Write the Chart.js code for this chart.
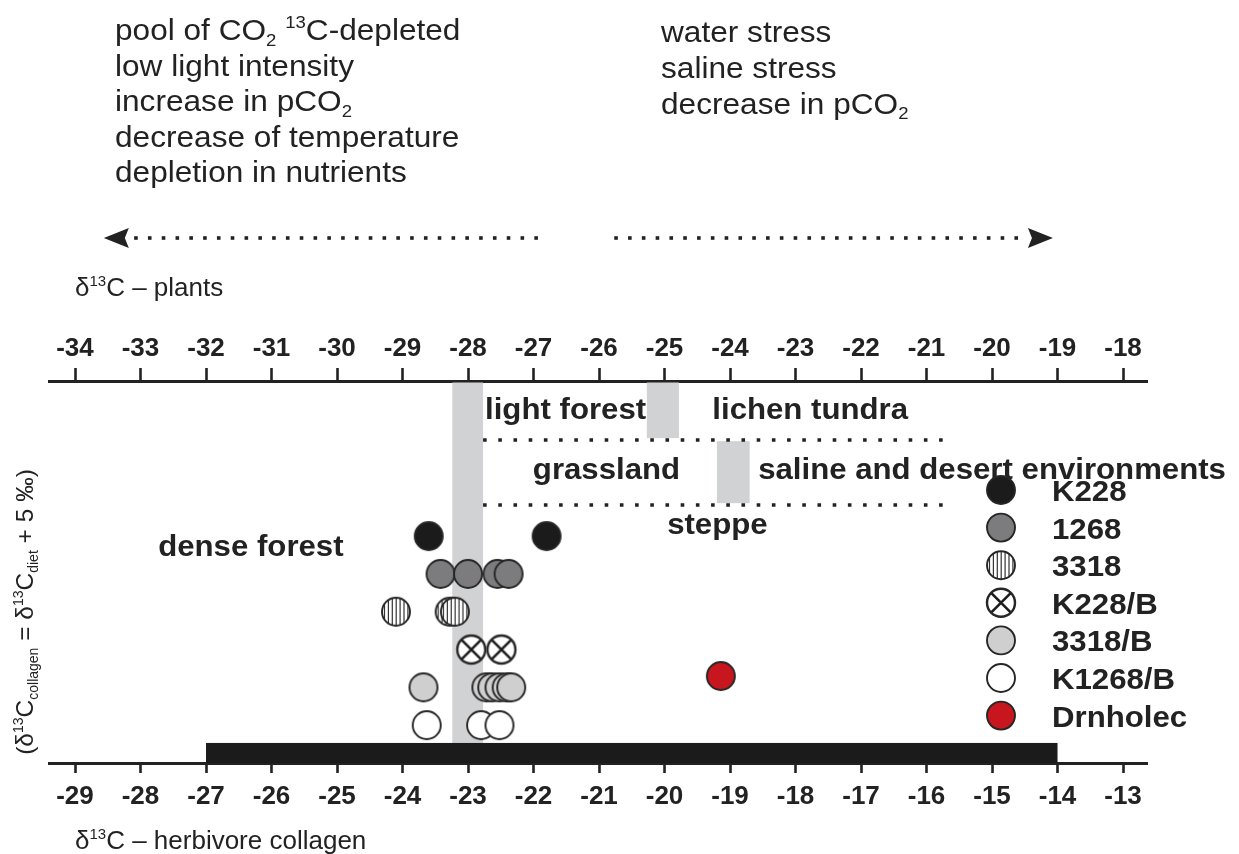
<!DOCTYPE html>
<html>
<head>
<meta charset="utf-8">
<script src="https://cdn.jsdelivr.net/npm/chart.js@4.4.0/dist/chart.umd.min.js"></script>
<style>
  html, body { margin: 0; padding: 0; background: #fff; }
  #wrap { width: 1239px; height: 854px; position: relative; }
</style>
</head>
<body>
<div id="wrap"><canvas id="c" width="1239" height="854"></canvas></div>
<script>
// ---- axis tick values ----
const collagenTicks = [-29, -28, -27, -26, -25, -24, -23, -22, -21, -20, -19, -18, -17, -16, -15, -14, -13];
const plantTicks = [-34, -33, -32, -31, -30, -29, -28, -27, -26, -25, -24, -23, -22, -21, -20, -19, -18];

// ---- herbivore collagen δ13C values, one array per sample group ----
const seriesNames = ['K228', '1268', '3318', 'K228/B', '3318/B', 'K1268/B', 'Drnholec'];
const k228Values = [-23.6, -21.8];
const s1268Values = [-23.42, -23.0, -22.55, -22.38];
const s3318Values = [-24.1, -23.28, -23.2];
const k228bValues = [-22.95, -22.49];
const s3318bValues = [-23.68, -22.72, -22.63, -22.52, -22.41, -22.34];
const k1268bValues = [-23.63, -22.8, -22.52];
const drnholecValues = [-19.14];
// vertical row of each group
const rowLevels = [6, 5, 4, 3, 2, 1, 2.3];

// ---- vegetation zones on the plant scale ----
const zoneBoundaries = [-28.24, -27.77, -25.27, -24.78, -24.2, -23.7]; // grey boundary strips (pairs)
const zoneBoundaryRows = [[0, 10.1], [8.59, 10.1], [6.87, 8.51]];
const zoneDividers = [8.54, 6.82];          // dotted dividers
const zoneDividerSpan = [-27.77, -20.72];   // plant scale
const zoneLabels = ['light forest', 'lichen tundra', 'grassland', 'saline and desert environments', 'steppe', 'dense forest'];
const zoneLabelX = [-27.74, -24.27, -27.01, -23.57, -24.96, -32.73];
const zoneLabelY = [9.1, 9.1, 7.5, 7.5, 6.05, 5.48];
// range of collagen values shown by the black bar
const collagenRange = [-27, -14];
const collagenRangeHeight = 0.53;

// ---- text ----
const leftNotes = ['pool of CO_{2} ^{13}C-depleted', 'low light intensity', 'increase in pCO_{2}', 'decrease of temperature', 'depletion in nutrients'];
const rightNotes = ['water stress', 'saline stress', 'decrease in pCO_{2}'];
const plantTitle = 'δ^{13}C – plants';
const collagenTitle = 'δ^{13}C – herbivore collagen';
const yTitle = '(δ^{13}C_{collagen} = δ^{13}C_{diet} + 5 ‰)';
// arrows on the plant scale: [tail, tip]
const arrowLower = [-26.96, -33.56];
const arrowHigher = [-25.74, -19.07];

const INK = '#222';
const FONT = '"Liberation Sans", Arial, sans-serif';

// ---- markers ----
const R = 14;
const markerKinds = ['black', 'grey', 'stripe', 'cross', 'light', 'white', 'red'];
const markerFill = { black: '#1b1b1b', grey: '#7c7c7e', stripe: '#ffffff', cross: '#ffffff', light: '#cfcfd0', white: '#ffffff', red: '#c8161e' };

function drawMarker(g, kind, x, y, r) {
  g.save();
  g.beginPath(); g.arc(x, y, r, 0, Math.PI * 2);
  g.fillStyle = markerFill[kind]; g.fill();
  if (kind === 'stripe') {
    g.save(); g.clip();
    g.strokeStyle = '#333'; g.lineWidth = 1.2;
    for (let sx = x - r + 2.5; sx < x + r; sx += 3.9) {
      g.beginPath(); g.moveTo(sx, y - r); g.lineTo(sx, y + r); g.stroke();
    }
    g.restore();
  }
  if (kind === 'cross') {
    const d = r * Math.SQRT1_2;
    g.strokeStyle = '#1d1d1d'; g.lineWidth = 2.6;
    g.beginPath(); g.moveTo(x - d, y - d); g.lineTo(x + d, y + d);
    g.moveTo(x + d, y - d); g.lineTo(x - d, y + d); g.stroke();
  }
  g.beginPath(); g.arc(x, y, r, 0, Math.PI * 2);
  g.strokeStyle = '#262626'; g.lineWidth = kind === 'cross' ? 2.4 : 1.9;
  g.stroke();
  g.restore();
}
function markerImage(kind) {
  const s = 2 * (R + 3);
  const c = document.createElement('canvas'); c.width = s; c.height = s;
  drawMarker(c.getContext('2d'), kind, s / 2, s / 2, R);
  return c;
}
const markerImages = markerKinds.map(markerImage);

// ---- rich text with sub/superscripts ----
function parseRich(str) {
  const parts = [];
  const re = /(_\{[^}]*\}|\^\{[^}]*\})/g;
  let last = 0, m;
  while ((m = re.exec(str))) {
    if (m.index > last) parts.push({ t: str.slice(last, m.index) });
    parts.push({ t: m[0].slice(2, -1), sub: m[0][0] === '_', sup: m[0][0] === '^' });
    last = re.lastIndex;
  }
  if (last < str.length) parts.push({ t: str.slice(last) });
  return parts;
}
function richText(ctx, str, x, y, size, weight, stretch, measureOnly) {
  const parts = parseRich(str);
  ctx.save();
  ctx.translate(x, y);
  ctx.scale(stretch, 1);
  ctx.fillStyle = INK;
  ctx.textBaseline = 'alphabetic';
  ctx.textAlign = 'left';
  let cx = 0;
  for (const p of parts) {
    const small = p.sub || p.sup;
    const fs = small ? Math.round(size * 0.58) : size;
    ctx.font = `${weight || 'normal'} ${fs}px ${FONT}`;
    const dy = p.sub ? size * 0.2 : (p.sup ? -size * 0.4 : 0);
    if (!measureOnly) ctx.fillText(p.t, cx, dy);
    cx += ctx.measureText(p.t).width;
  }
  ctx.restore();
  return cx * stretch;
}

function drawArrow(ctx, xs, pair, y) {
  const tail = xs.getPixelForValue(pair[0]);
  const tip = xs.getPixelForValue(pair[1]);
  const dir = Math.sign(tip - tail);
  const headLen = 25, half = 10, step = 13.8, dot = 3.6;
  const base = tip - dir * headLen;
  ctx.save();
  ctx.fillStyle = INK;
  for (let p = tail; dir * (base - dir * 4 - p) >= 0; p += dir * step) {
    ctx.fillRect(p - dot / 2, y - dot / 2, dot, dot);
  }
  ctx.beginPath();
  ctx.moveTo(tip, y); ctx.lineTo(base, y - half); ctx.lineTo(base + dir * 4, y); ctx.lineTo(base, y + half);
  ctx.closePath(); ctx.fill();
  ctx.restore();
}

const zonePlugin = {
  id: 'zones',
  beforeDatasetsDraw(chart) {
    const { ctx, scales } = chart;
    const xp = scales.xp, x = scales.x, y = scales.y;
    ctx.save();
    // grey boundary strips
    ctx.fillStyle = '#d1d2d4';
    for (let i = 0; i < zoneBoundaryRows.length; i++) {
      const x1 = xp.getPixelForValue(zoneBoundaries[2 * i]);
      const x2 = xp.getPixelForValue(zoneBoundaries[2 * i + 1]);
      const yTop = Math.max(y.getPixelForValue(zoneBoundaryRows[i][1]), chart.chartArea.top + 1.5);
      const yBot = y.getPixelForValue(zoneBoundaryRows[i][0]);
      ctx.fillRect(x1, yTop, x2 - x1, yBot - yTop);
    }
    // collagen range bar
    ctx.fillStyle = '#1b1b1b';
    const bx1 = x.getPixelForValue(collagenRange[0]);
    const bx2 = x.getPixelForValue(collagenRange[1]);
    const by1 = y.getPixelForValue(collagenRangeHeight);
    const by2 = y.getPixelForValue(0);
    ctx.fillRect(bx1, by1, bx2 - bx1, by2 - by1);
    // zone names
    for (let i = 0; i < zoneLabels.length; i++) {
      richText(ctx, zoneLabels[i], xp.getPixelForValue(zoneLabelX[i]), y.getPixelForValue(zoneLabelY[i]), 29, 'bold', 1.075);
    }
    ctx.restore();
  },
  afterDraw(chart) {
    const { ctx, scales } = chart;
    const xp = scales.xp;
    // explanatory notes
    leftNotes.forEach((t, i) => richText(ctx, t, 115, 40 + i * 35.5, 29, 'normal', 1.09));
    rightNotes.forEach((t, i) => richText(ctx, t, 661, 42 + i * 35.8, 29, 'normal', 1.09));
    drawArrow(ctx, xp, arrowLower, 238);
    drawArrow(ctx, xp, arrowHigher, 238);
    // axis titles
    richText(ctx, plantTitle, 75, 296, 26, 'normal', 1.0);
    richText(ctx, collagenTitle, 75, 849, 26, 'normal', 1.0);
    // vertical title
    const w = richText(ctx, yTitle, 0, 0, 24.5, 'normal', 1.0, true);
    ctx.save();
    ctx.translate(33, 612 + w / 2);
    ctx.rotate(-Math.PI / 2);
    richText(ctx, yTitle, 0, 0, 24.5, 'normal', 1.0);
    ctx.restore();
    // legend
    const lx = 1001, ly0 = 490, step = 37.6;
    seriesNames.forEach((name, i) => {
      const yy = ly0 + i * step;
      drawMarker(ctx, markerKinds[i], lx, yy, R);
      richText(ctx, name, 1052, yy + 11, 29, 'bold', 1.075);
    });
  }
};

const groups = [k228Values, s1268Values, s3318Values, k228bValues, s3318bValues, k1268bValues, drnholecValues];
const datasets = groups.map((vals, i) => ({
  label: seriesNames[i],
  data: vals.map(v => ({ x: v, y: rowLevels[i] })),
  pointStyle: markerImages[i],
  pointRadius: R,
  pointHoverRadius: R,
  showLine: false,
  xAxisID: 'x',
  yAxisID: 'y'
}));
zoneDividers.forEach((lvl, i) => {
  datasets.unshift({
    label: 'divider' + i,
    data: zoneDividerSpan.map(v => ({ x: v, y: lvl })),
    showLine: true,
    borderColor: INK,
    borderWidth: 3.6,
    borderDash: [3.6, 11.6],
    borderCapStyle: 'butt',
    pointRadius: 0,
    xAxisID: 'xp',
    yAxisID: 'y'
  });
});

const tickFont = { family: '"Liberation Sans", Arial, sans-serif', size: 26, weight: 'bold' };
const axisCommon = {
  type: 'linear',
  grid: { drawOnChartArea: false, drawTicks: true, tickWidth: 2.6, tickColor: INK },
  border: { display: true, color: INK, width: 3 },
};

new Chart(document.getElementById('c'), {
  type: 'scatter',
  data: { datasets },
  options: {
    responsive: false,
    animation: false,
    devicePixelRatio: 1,
    layout: { padding: { left: 49, right: 92, top: 0, bottom: 0 } },
    plugins: { legend: { display: false }, tooltip: { enabled: false } },
    scales: {
      x: {
        ...axisCommon,
        position: 'bottom',
        min: -29.397, max: -12.634,
        grid: { ...axisCommon.grid, tickLength: 10 },
        ticks: { font: tickFont, color: INK, padding: 8, autoSkip: false, maxRotation: 0 },
        afterBuildTicks: s => { s.ticks = collagenTicks.map(v => ({ value: v })); },
        afterFit: s => { s.height = 91; }
      },
      xp: {
        ...axisCommon,
        position: 'top',
        min: -34.397, max: -17.634,
        grid: { ...axisCommon.grid, tickLength: 13 },
        ticks: { font: tickFont, color: INK, padding: 4, autoSkip: false, maxRotation: 0 },
        afterBuildTicks: s => { s.ticks = plantTicks.map(v => ({ value: v })); },
        afterFit: s => { s.height = 381; }
      },
      y: { display: false, min: 0, max: 10.1 }
    }
  },
  plugins: [zonePlugin]
});
</script>
</body>
</html>
